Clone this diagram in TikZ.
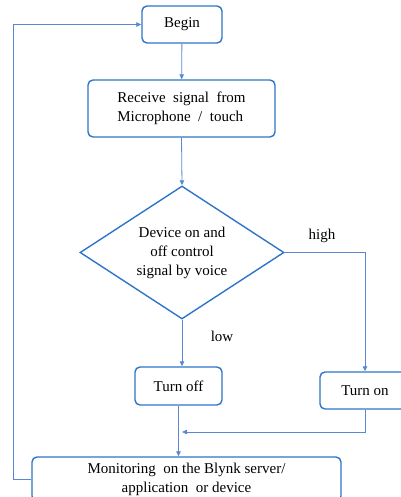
\documentclass[tikz,border=0pt]{standalone}
\usepackage{fontspec}
\setmainfont{Liberation Serif}
\usetikzlibrary{arrows.meta, positioning, shapes.geometric}
\definecolor{boxBlue}  {RGB}{46,117,200}
\definecolor{lineBlue} {RGB}{90,135,210}

\begin{document}
\begin{tikzpicture}[x=1pt, y=-1pt, font=\fontsize{15}{19}\selectfont,
        stepbox/.style={draw=boxBlue, line width=1.4pt, rounded corners=5pt, inner sep=0pt, align=center},
        decision/.style={draw=boxBlue, line width=1.4pt, diamond, aspect=1.55, inner sep=0pt, align=center},
        link/.style={lineBlue, line width=0.8pt, -{Triangle[length=5pt, width=4.5pt]}}]
        \useasboundingbox (0,0) rectangle (400,497);
        \node[stepbox, minimum width=80pt, minimum height=37pt] (begin) at (182,24.5) {Begin};
        \node[stepbox, minimum width=187pt, minimum height=57pt, align=left] (receive) at (181.5,108.5)
            {Receive\ \ signal\ \ from\\Microphone\ \ /\ \ touch};
        \node[decision, minimum width=204pt, minimum height=133pt] (decide) at (182,252.5)
            {Device on and\\off control\\signal by voice};
        \node[stepbox, minimum width=87pt, minimum height=38pt] (turnoff) at (178.5,386) {Turn off};
        \node[stepbox, minimum width=90pt, minimum height=37pt] (turnon) at (365,390.5) {Turn on};
        \node[stepbox, minimum width=309pt, minimum height=44pt] (monitor) at (186.5,479)
            {Monitoring\ \ on the Blynk server/\\application\ \ or device};
        \node (high) at (322,236) {high};
        \node (low) at (222,336) {low};
        \coordinate (merge) at (182,432);
        \draw[link] (begin) -- (receive);
        \draw[link] (receive.south) -- (decide.north);
        \draw[link] (decide.south) -- (decide.south |- turnoff.north);
        \draw[link] (decide.east) -| (turnon.north);
        \draw[link] (turnon.south) |- (merge);
        \draw[link] (turnoff.south) -- (turnoff.south |- monitor.north);
        \draw[link] (monitor.west) -- ++(-18,0) |- (begin.west);
    \end{tikzpicture}
\end{document}
